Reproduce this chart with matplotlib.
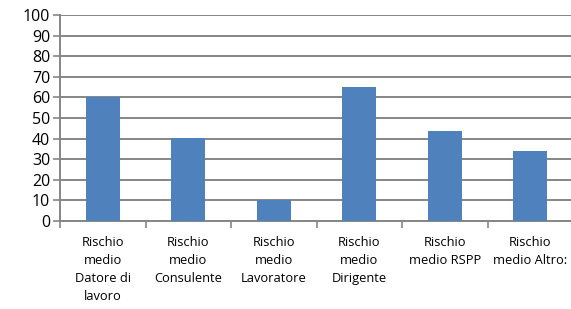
import matplotlib
matplotlib.use("Agg")
import matplotlib.pyplot as plt
import numpy as np

categories = ["Rischio\nmedio\nDatore di\nlavoro", "Rischio\nmedio\nConsulente",
              "Rischio\nmedio\nLavoratore", "Rischio\nmedio\nDirigente",
              "Rischio\nmedio RSPP", "Rischio\nmedio Altro:"]
values = [60, 40.5, 10, 65, 43.7, 34]
yticks = list(range(0, 101, 10))

plt.rcParams['font.family'] = ['Open Sans', 'DejaVu Sans']

fig = plt.figure(figsize=(5.71, 3.09), dpi=100)
ax = fig.add_axes([60 / 571, 1 - 221 / 309, 513 / 571, 206 / 309])

x = np.arange(len(categories))
ax.bar(x, values, width=0.4, color='#4F81BD', zorder=3)

ax.set_xlim(-0.5, len(categories) - 0.5)
ax.set_ylim(0, 100)
ax.set_yticks(yticks)
ax.tick_params(axis='y', labelsize=11.5, length=5, width=1.2, color='#868686', pad=2)
ax.yaxis.grid(True, color='#868686', linewidth=1.4, zorder=0)

ax.set_xticks(np.arange(len(categories) + 1) - 0.5)
ax.set_xticklabels([])
ax.set_xticks(x, minor=True)
ax.set_xticklabels(categories, minor=True, fontsize=9.3, linespacing=1.5, va='top')
ax.tick_params(axis='x', which='major', length=5, width=1.2, color='#868686')
ax.tick_params(axis='x', which='minor', length=0, pad=11)

for side in ['top', 'right']:
    ax.spines[side].set_visible(False)
for side in ['left', 'bottom']:
    ax.spines[side].set_color('#868686')
    ax.spines[side].set_linewidth(1.4)

fig.savefig("out.png", dpi=100)
